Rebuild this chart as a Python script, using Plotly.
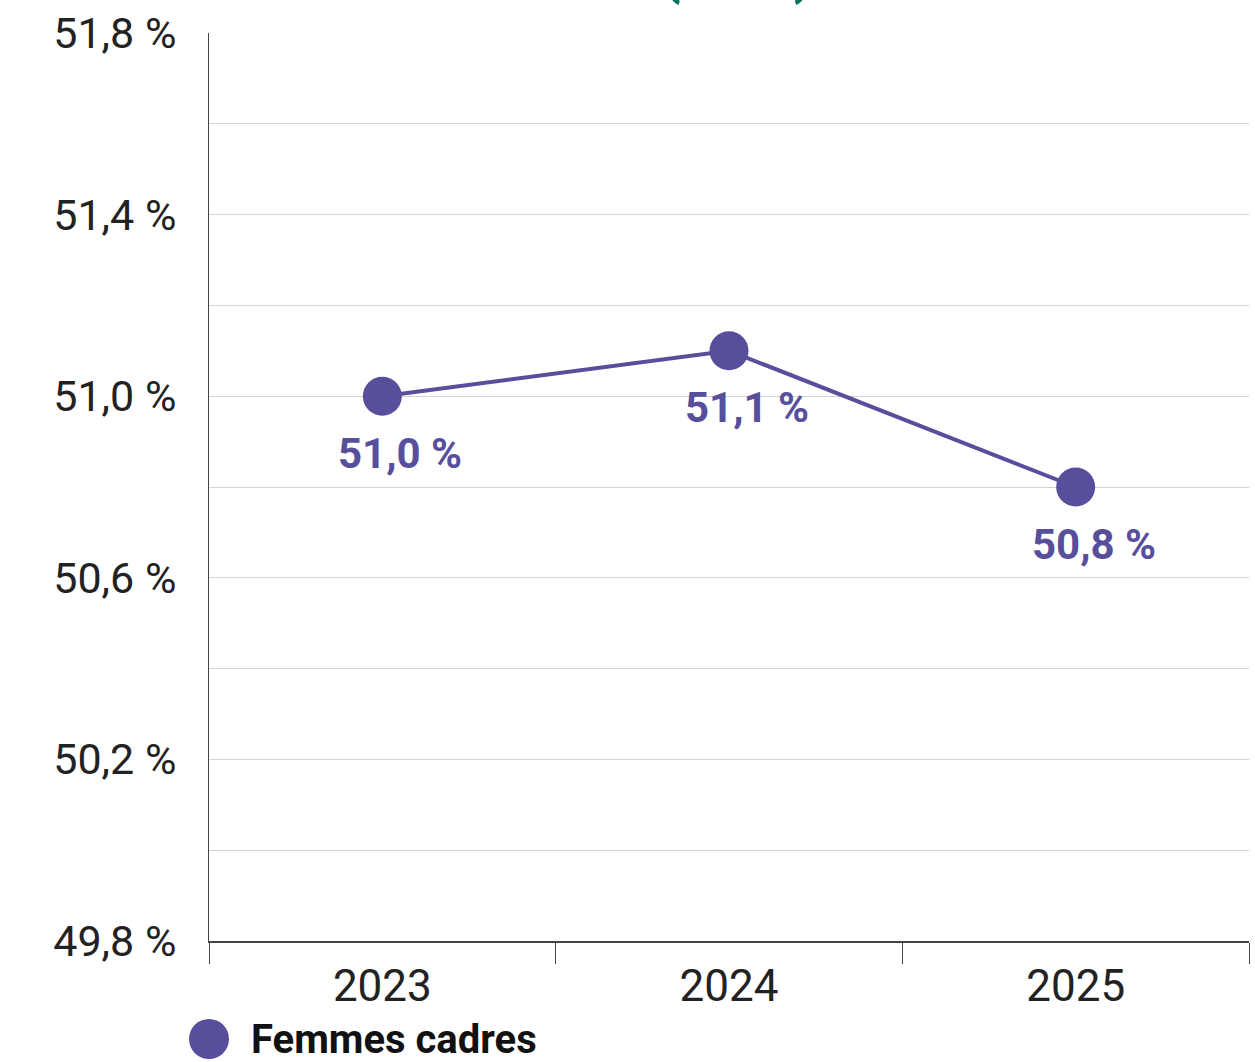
import plotly.graph_objects as go

years = ["2023", "2024", "2025"]
values = [51.0, 51.1, 50.8]
value_labels = ["51,0 %", "51,1 %", "50,8 %"]
series_name = "Femmes cadres"
y_tickvals = [49.8, 50.0, 50.2, 50.4, 50.6, 50.8, 51.0, 51.2, 51.4, 51.6, 51.8]
y_ticktext = ["49,8 %", "", "50,2 %", "", "50,6 %", "", "51,0 %", "", "51,4 %", "", "51,8 %"]

PURPLE = "#584f9c"
GREEN = "#00725f"
FONT = "Roboto"

fig = go.Figure()
fig.add_trace(go.Scatter(
    x=years, y=values, mode="lines+markers",
    name=series_name,
    line=dict(color=PURPLE, width=4),
    marker=dict(color=PURPLE, size=39),
    showlegend=False,
    cliponaxis=False,
))

for i, (y, t) in enumerate(zip(values, value_labels)):
    fig.add_annotation(x=i, y=y, xref="x", yref="y", text=t, showarrow=False,
                       xshift=18, yshift=-57,
                       font=dict(family=FONT, size=42, color=PURPLE, weight="bold"))

# manual legend
fig.add_shape(type="circle", xref="paper", yref="paper",
              x0=-20/1040, x1=20/1040, y0=-(1059-941)/908, y1=-(1019-941)/908,
              fillcolor=PURPLE, line=dict(width=0))
fig.add_annotation(xref="paper", yref="paper", x=40/1040, y=-(1039-941)/908,
                   xanchor="left", yanchor="middle", showarrow=False,
                   text=series_name,
                   font=dict(family=FONT, size=40, color="#111111", weight="bold"))

# partially visible title above the frame
fig.add_annotation(xref="paper", yref="paper", x=(737-209)/1040, y=1 + (33 - 8)/908,
                   xanchor="center", yanchor="bottom", showarrow=False,
                   text="(en %)",
                   font=dict(family=FONT, size=54, color=GREEN, weight="bold"))

fig.update_layout(
    width=1255, height=1062,
    margin=dict(l=209, r=6, t=33, b=121),
    paper_bgcolor="white", plot_bgcolor="white",
    font=dict(family=FONT, color="#222222"),
)
fig.update_xaxes(
    type="category", showgrid=False,
    showline=True, linecolor="#444444", linewidth=2,
    ticks="outside", tickson="boundaries", ticklen=21, tickcolor="#444444", tickwidth=1,
    tickfont=dict(family=FONT, size=44, color="#222222"),
    ticklabelstandoff=5,
    range=[-0.5, 2.5],
)
fig.update_yaxes(
    range=[49.8, 51.8], tickvals=y_tickvals, ticktext=y_ticktext,
    showgrid=True, gridcolor="#d3d3d3", gridwidth=1,
    showline=True, linecolor="#444444", linewidth=1,
    zeroline=False, ticks="", ticklabelstandoff=23,
    tickfont=dict(family=FONT, size=43, color="#222222"),
)

fig.write_html("out.html", config={"displayModeBar": False},
               post_script="document.body.style.margin='0px';")
